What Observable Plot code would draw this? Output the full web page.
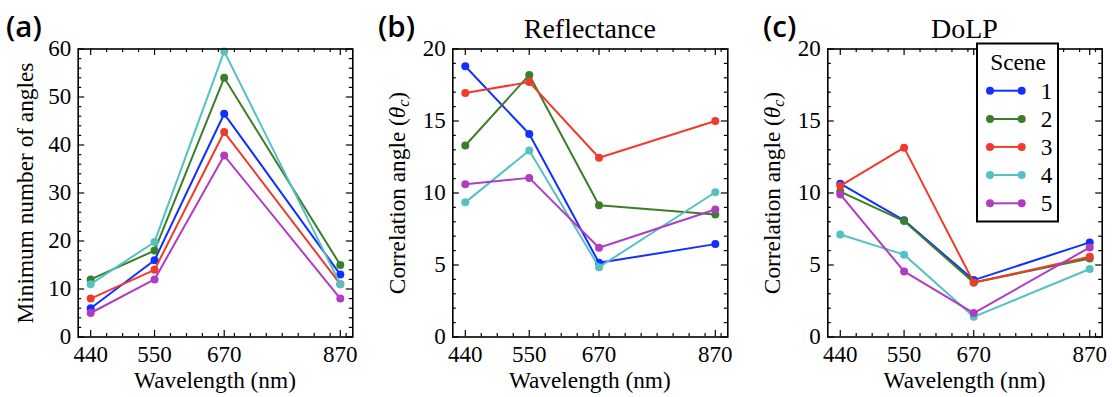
<!DOCTYPE html>
<html>
<head>
<meta charset="utf-8">
<script src="https://cdn.jsdelivr.net/npm/d3@7"></script>
<script src="https://cdn.jsdelivr.net/npm/@observablehq/plot@0.6"></script>
<style>
  html, body { margin: 0; padding: 0; background: #fff; }
  #chart { position: relative; width: 1112px; height: 397px; overflow: hidden; }
  #chart > svg { position: absolute; top: 0; }
</style>
</head>
<body>
<div id="chart"></div>
<script>
// ---- data ----
const wavelengths = [440, 550, 670, 870];
const scenes = ["1", "2", "3", "4", "5"];
const sceneColors = ["#1030ff", "#3b7e2a", "#ef3b2c", "#55c1c4", "#b03cc3"];

// (a) Minimum number of angles, one row per scene
const minAngles = [
  [6, 16, 46.5, 13],
  [12, 18, 54, 15],
  [8, 14, 42.7, 11],
  [11, 19.8, 59.5, 11],
  [5, 12, 37.8, 8]
];
// (b) Reflectance correlation angle
const reflectance = [
  [18.8, 14.1, 5.15, 6.45],
  [13.3, 18.2, 9.15, 8.5],
  [16.95, 17.7, 12.45, 15.0],
  [9.35, 12.95, 4.85, 10.05],
  [10.6, 11.05, 6.2, 8.85]
];
// (c) DoLP correlation angle
const dolp = [
  [10.65, 8.1, 3.95, 6.57],
  [10.1, 8.05, 3.78, 5.45],
  [10.5, 13.15, 3.78, 5.57],
  [7.12, 5.72, 1.4, 4.72],
  [9.9, 4.55, 1.66, 6.22]
];

const yTicksA = [0, 10, 20, 30, 40, 50, 60];
const yTicksBC = [0, 5, 10, 15, 20];
const xLabel = "Wavelength (nm)";
const yLabelA = "Minimum number of angles";
const panelLetters = ["(a)", "(b)", "(c)"];
const titles = ["", "Reflectance", "DoLP"];

// ---- layout ----
const H = 397, MT = 48.5, MB = 60.5;
const xDomain = [418.5, 891.5];
const xMinor = d3.range(440, 892, 27.5).filter(v => !wavelengths.includes(v));
const serif = "'Liberation Serif', 'Times New Roman', serif";

function panel(values, yDomain, yMajor, yMinorStep, left, width, ml, mr) {
  const innerH = H - MT - MB, innerW = width - ml - mr;
  const rows = values.flatMap((vals, i) => vals.map((v, j) => ({scene: scenes[i], wl: wavelengths[j], v})));
  const yMinor = d3.range(yDomain[0], yDomain[1] + 1e-9, yMinorStep).filter(v => !yMajor.includes(v));
  const tk = {stroke: "black", strokeWidth: 1.2};
  const marks = [
    Plot.axisX(wavelengths, {tickSize: 0, tickPadding: 9, label: null, fontFamily: serif}),
    Plot.axisY(yMajor, {tickSize: 0, tickPadding: 7, label: null, fontFamily: serif}),
    // inward ticks on all four sides
    Plot.ruleX(wavelengths, {...tk, insetTop: innerH - 6.5}),
    Plot.ruleX(wavelengths, {...tk, insetBottom: innerH - 6.5}),
    Plot.ruleX(xMinor, {...tk, insetTop: innerH - 3.5}),
    Plot.ruleX(xMinor, {...tk, insetBottom: innerH - 3.5}),
    Plot.ruleY(yMajor, {...tk, insetRight: innerW - 6.5}),
    Plot.ruleY(yMajor, {...tk, insetLeft: innerW - 6.5}),
    Plot.ruleY(yMinor, {...tk, insetRight: innerW - 3.5}),
    Plot.ruleY(yMinor, {...tk, insetLeft: innerW - 3.5})
  ];
  for (const s of scenes) {
    const d = rows.filter(r => r.scene === s);
    marks.push(Plot.line(d, {x: "wl", y: "v", stroke: "scene", strokeWidth: 2}));
    marks.push(Plot.dot(d, {x: "wl", y: "v", fill: "scene", r: 4}));
  }
  marks.push(Plot.frame({stroke: "black", strokeWidth: 1.6}));
  const svg = Plot.plot({
    width, height: H,
    marginTop: MT, marginBottom: MB, marginLeft: ml, marginRight: mr,
    x: {domain: xDomain, axis: null},
    y: {domain: yDomain, axis: null},
    color: {type: "ordinal", domain: scenes, range: sceneColors},
    style: {fontFamily: serif, fontSize: "23px", color: "black", background: "transparent", overflow: "visible"},
    marks
  });
  svg.style.left = left + "px";
  document.getElementById("chart").appendChild(svg);
}

panel(minAngles, [0, 60], yTicksA, 2, 0, 370, 77.7, 17.7);
panel(reflectance, [0, 20], yTicksBC, 1, 370, 370, 82.3, 12.7);
panel(dolp, [0, 20], yTicksBC, 1, 740, 372, 87.3, 10.3);

// ---- text overlay ----
const ov = d3.select("#chart").append("svg")
  .attr("width", 1112).attr("height", H)
  .style("left", "0px").style("pointer-events", "none");
const letterX = [6, 378, 763];
panelLetters.forEach((t, i) => ov.append("text").attr("x", letterX[i]).attr("y", 36.5)
  .attr("font-family", "'Open Sans', sans-serif").attr("font-weight", "600").attr("font-size", 29.5).text(t));
const centers = [215, 589.8, 964.5];
titles.forEach((t, i) => { if (t) ov.append("text").attr("x", centers[i]).attr("y", 38)
  .attr("text-anchor", "middle").attr("font-family", serif).attr("font-size", 28).text(t); });
centers.forEach(c => ov.append("text").attr("x", c).attr("y", 388)
  .attr("text-anchor", "middle").attr("font-family", serif).attr("font-size", 23.3).text(xLabel));
const yLabX = [33, 404.5, 779.5];
yLabX.forEach((x, i) => {
  const t = ov.append("text").attr("transform", `translate(${x},193) rotate(-90)`)
    .attr("text-anchor", "middle").attr("font-family", serif).attr("font-size", 23.3);
  if (i === 0) t.text(yLabelA);
  else {
    t.append("tspan").text("Correlation angle (");
    t.append("tspan").attr("font-style", "italic").text("θ");
    t.append("tspan").attr("font-style", "italic").attr("font-size", 16).attr("dy", 4).text("c");
    t.append("tspan").attr("dy", -4).text(")");
  }
});
// legend
const lg = ov.append("g");
lg.append("rect").attr("x", 977).attr("y", 43.5).attr("width", 81).attr("height", 178)
  .attr("fill", "white").attr("stroke", "black").attr("stroke-width", 2);
lg.append("text").attr("x", 1018).attr("y", 69.5).attr("text-anchor", "middle")
  .attr("font-family", serif).attr("font-size", 23.3).text("Scene");
const legY = [90.7, 119, 146.9, 175, 203.3];
scenes.forEach((s, i) => {
  const y = legY[i];
  lg.append("line").attr("x1", 990).attr("x2", 1021.7).attr("y1", y).attr("y2", y)
    .attr("stroke", sceneColors[i]).attr("stroke-width", 2);
  [990, 1021.7].forEach(x => lg.append("circle").attr("cx", x).attr("cy", y).attr("r", 4).attr("fill", sceneColors[i]));
  lg.append("text").attr("x", 1046.7).attr("y", y + 7.8).attr("text-anchor", "middle")
    .attr("font-family", serif).attr("font-size", 23.3).text(s);
});
</script>
</body>
</html>
